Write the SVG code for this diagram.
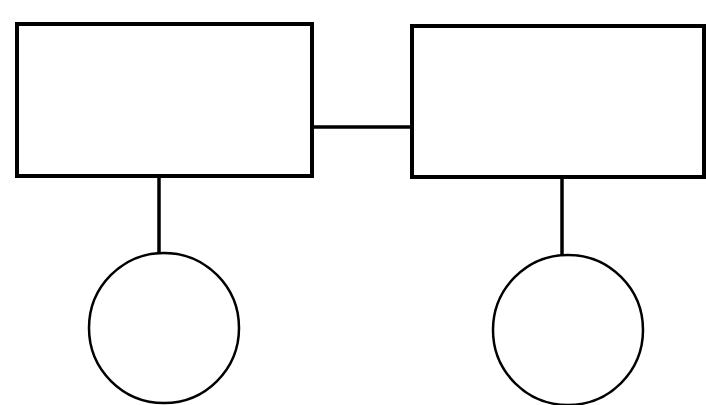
<svg xmlns="http://www.w3.org/2000/svg" width="706" height="405" viewBox="0 0 706 405">
<style>
.box{fill:none;stroke:#000;stroke-width:4}
.circ{fill:none;stroke:#000;stroke-width:2.5}
.wire{fill:none;stroke:#000;stroke-width:3.5}
</style>
<rect width="706" height="405" fill="#fff"/>
<g id="box-left"><rect class="box" x="17" y="24" width="295" height="152"/></g>
<g id="box-right"><rect class="box" x="412" y="26" width="292" height="151"/></g>
<g id="circle-left"><ellipse class="circ" cx="164" cy="328" rx="75" ry="75"/></g>
<g id="circle-right"><ellipse class="circ" cx="568" cy="330" rx="75" ry="75"/></g>
<g id="connectors">
<line class="wire" x1="312" y1="127" x2="412" y2="127"/>
<line class="wire" x1="159" y1="176" x2="159" y2="253"/>
<line class="wire" x1="562" y1="177" x2="562" y2="255"/>
</g>
</svg>
